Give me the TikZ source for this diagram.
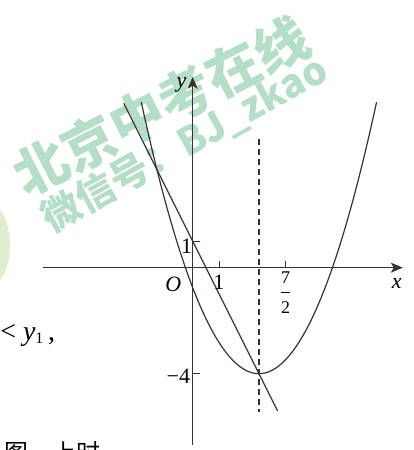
\documentclass[tikz,border=0pt]{standalone}
\usepackage{fontspec}
\setmainfont{Liberation Serif}
\newfontfamily\cjk{Noto Sans CJK SC}
\usetikzlibrary{arrows.meta}

\definecolor{axisgray}{RGB}{58,50,50}
\definecolor{markgreen}{RGB}{180,222,197}
\definecolor{logogreen}{RGB}{222,238,205}

\newcommand{\fracdigit}[1]{\mbox{\fontsize{9}{9}\selectfont #1}}

\begin{document}
\begin{tikzpicture}[x=13.25bp,y=13.25bp,
    axis/.style={draw=axisgray,line width=0.6bp,-{Stealth[length=6bp,width=5bp,inset=1.5bp]}},
    graph/.style={draw=axisgray,line width=0.6bp},
    lbl/.style={inner sep=0pt,font=\fontsize{11}{13}\selectfont},
    wmark/.style={inner sep=0pt,text=markgreen}]
\useasboundingbox (-7.27,-6.88) rectangle (8.35,10.10);

% watermark
\fill[logogreen] (-7.6,0.85) ellipse (0.7 and 1.5);
\node[wmark,rotate=27,font=\cjk\bfseries\fontsize{27}{29}\selectfont] (wm1) at (-1.2,6.1) {北京中考在线};
\node[wmark,rotate=29,font=\cjk\bfseries\fontsize{19.5}{21}\selectfont] (wm2) at (-0.3,4.66) {微信号：BJ\_zkao};

% axes
\coordinate (xs) at (-5.65,0);
\coordinate (xe) at (7.93,0);
\coordinate (ys) at (0,-6.69);
\coordinate (ye) at (0,7.2);
\draw[axis] (xs) -- (xe);
\draw[axis] (ys) -- (ye);

% ticks
\draw[graph] (1,0) -- (1,0.25);
\draw[graph] (3.5,0) -- (3.5,0.25);
\draw[graph] (0,1) -- (0.27,1);
\draw[graph] (0,-4) -- (0.27,-4);

% axis of symmetry
\coordinate (ds) at (2.5,4.85);
\coordinate (de) at (2.5,-5.43);
\draw[graph,dash pattern=on 3bp off 2bp] (ds) -- (de);

% parabola and line
\draw[graph,domain=-1.94:6.94,samples=90] plot (\x,{0.52*(\x-2.5)^2-4});
\coordinate (la) at (-2.6,6.2);
\coordinate (lb) at (3.2,-5.4);
\draw[graph] (la) -- (lb);

% labels
\node[lbl] (ylab) at (-0.42,6.89) {\textit{y}};
\node[lbl] (xlab) at (7.7,-0.59) {\textit{x}};
\node[lbl] (olab) at (-0.73,-0.63) {\textit{O}};
\node[lbl] (one) at (0.99,-0.54) {1};
\node[lbl] (half) at (3.51,-0.93) {$\displaystyle\frac{\fracdigit{7}}{\fracdigit{2}}$};
\node[lbl] (yone) at (-0.23,0.79) {1};
\node[lbl] (yfour) at (-0.54,-4.11) {−4};

% text beside the figure
\node[inner sep=0pt,anchor=base west,font=\fontsize{14}{16}\selectfont] (txta) at (-7.27,-2.73) {< \textit{y}\raisebox{-0.3ex}{\fontsize{8}{8}\selectfont 1}\,,};
\node[inner sep=0pt,anchor=base west,font=\cjk\fontsize{12}{14}\selectfont] (txtb) at (-7.1,-7.3) {图\hspace{1em}上时};
\end{tikzpicture}
\end{document}
